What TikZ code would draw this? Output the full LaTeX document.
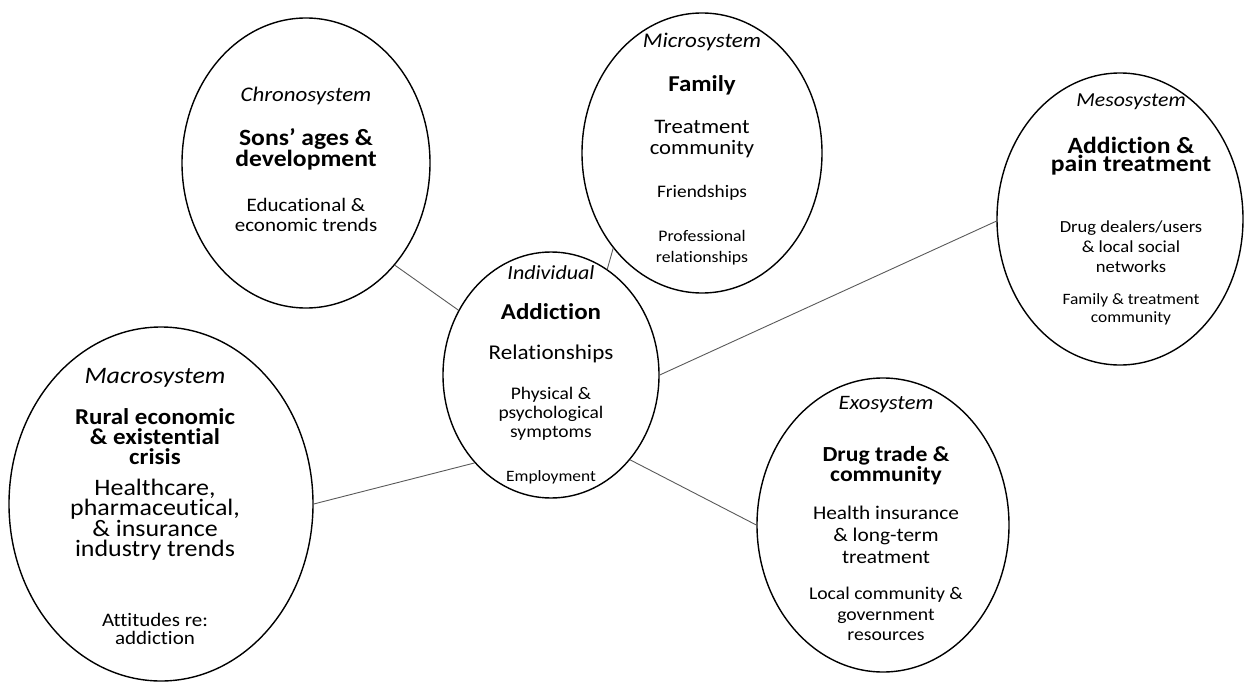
\documentclass[tikz,border=0pt]{standalone}
\usepackage{fontspec}
\setmainfont{Carlito}[FakeStretch=1.1,Ligatures=NoCommon]
\usetikzlibrary{shapes.geometric}
\begin{document}
\begin{tikzpicture}[x=1pt,y=-1pt,
 ell/.style={draw=black,line width=1.4pt,ellipse,inner sep=0pt},
 conn/.style={draw=black!65,line width=0.9pt},
 lbl/.style={align=center,inner sep=0pt,text=black},
]
\useasboundingbox (0,0) rectangle (1244,682);
% ellipses
\node[ell,minimum width=216pt,minimum height=246pt] (ind) at (551,375) {};
\node[ell,minimum width=240pt,minimum height=280pt] (micro) at (702,153) {};
\node[ell,minimum width=248pt,minimum height=290pt] (chrono) at (306,163) {};
\node[ell,minimum width=246pt,minimum height=292pt] (meso) at (1120,219) {};
\node[ell,minimum width=304pt,minimum height=354pt] (macro) at (161,504) {};
\node[ell,minimum width=252pt,minimum height=294pt] (exo) at (883,525) {};
% connectors
\draw[conn] (chrono.-49.1) -- (ind.145.6);
\draw[conn] (micro.227.8) -- (ind.62.6);
\draw[conn] (macro.0.4) -- (ind.229.4);
\draw[conn] (exo.180) -- (ind.-47.4);
\draw[conn] (meso.181) -- (ind.0);
% individual
\node[lbl,font=\fontsize{20}{22}\selectfont\itshape] (i1) at (551,273) {Individual};
\node[lbl,font=\fontsize{22.7}{24}\selectfont\bfseries] (i2) at (551,312) {Addiction};
\node[lbl,font=\fontsize{21}{23}\selectfont] (i3) at (551,354) {Relationships};
\node[lbl,font=\fontsize{17.7}{19}\selectfont] (i4) at (551,414) {Physical \&\\psychological\\symptoms};
\node[lbl,font=\fontsize{15.8}{17}\selectfont] (i5) at (551,477) {Employment};
% micro
\node[lbl,font=\fontsize{20.9}{22}\selectfont\itshape] (m1) at (702,42) {Microsystem};
\node[lbl,font=\fontsize{22.7}{24}\selectfont\bfseries] (m2) at (702,85) {Family};
\node[lbl,font=\fontsize{20.6}{21.7}\selectfont] (m3) at (702,139) {Treatment\\community};
\node[lbl,font=\fontsize{17.6}{19}\selectfont] (m4) at (702,193) {Friendships};
\node[lbl,font=\fontsize{16.1}{20.7}\selectfont] (m5) at (702,248) {Professional\\relationships};
% chrono
\node[lbl,font=\fontsize{20.8}{22}\selectfont\itshape] (c1) at (306,96) {Chronosystem};
\node[lbl,font=\fontsize{23.3}{21}\selectfont\bfseries] (c2) at (306,149) {Sons’ ages \&\\development};
\node[lbl,font=\fontsize{19.1}{20}\selectfont] (c3) at (306,215) {Educational \&\\economic trends};
% macro
\node[lbl,font=\fontsize{23.6}{25}\selectfont\itshape] (a1) at (155,378) {Macrosystem};
\node[lbl,font=\fontsize{22.7}{20}\selectfont\bfseries] (a2) at (155,437) {Rural economic\\\& existential\\crisis};
\node[lbl,font=\fontsize{23.6}{20}\selectfont] (a3) at (155,520) {Healthcare,\\pharmaceutical,\\\& insurance\\industry trends};
\node[lbl,font=\fontsize{19.1}{18.3}\selectfont] (a4) at (155,629) {Attitudes re:\\addiction};
% exo
\node[lbl,font=\fontsize{20.5}{22}\selectfont\itshape] (e1) at (886,405) {Exosystem};
\node[lbl,font=\fontsize{21.5}{18.3}\selectfont\bfseries] (e2) at (886,466) {Drug trade \&\\community};
\node[lbl,font=\fontsize{19.4}{21.7}\selectfont] (e3) at (886,535) {Health insurance\\\& long-term\\treatment};
\node[lbl,font=\fontsize{17.9}{20.8}\selectfont] (e4) at (886,614) {Local community \&\\government\\resources};
% meso
\node[lbl,font=\fontsize{19.8}{21}\selectfont\itshape] (s1) at (1131,102) {Mesosystem};
\node[lbl,font=\fontsize{23.3}{18.3}\selectfont\bfseries] (s2) at (1131,156) {Addiction \&\\pain treatment};
\node[lbl,font=\fontsize{16.9}{20}\selectfont] (s3) at (1131,247) {Drug dealers/users\\\& local social\\networks};
\node[lbl,font=\fontsize{15.8}{18.3}\selectfont] (s4) at (1131,309) {Family \& treatment\\community};
\end{tikzpicture}
\end{document}
